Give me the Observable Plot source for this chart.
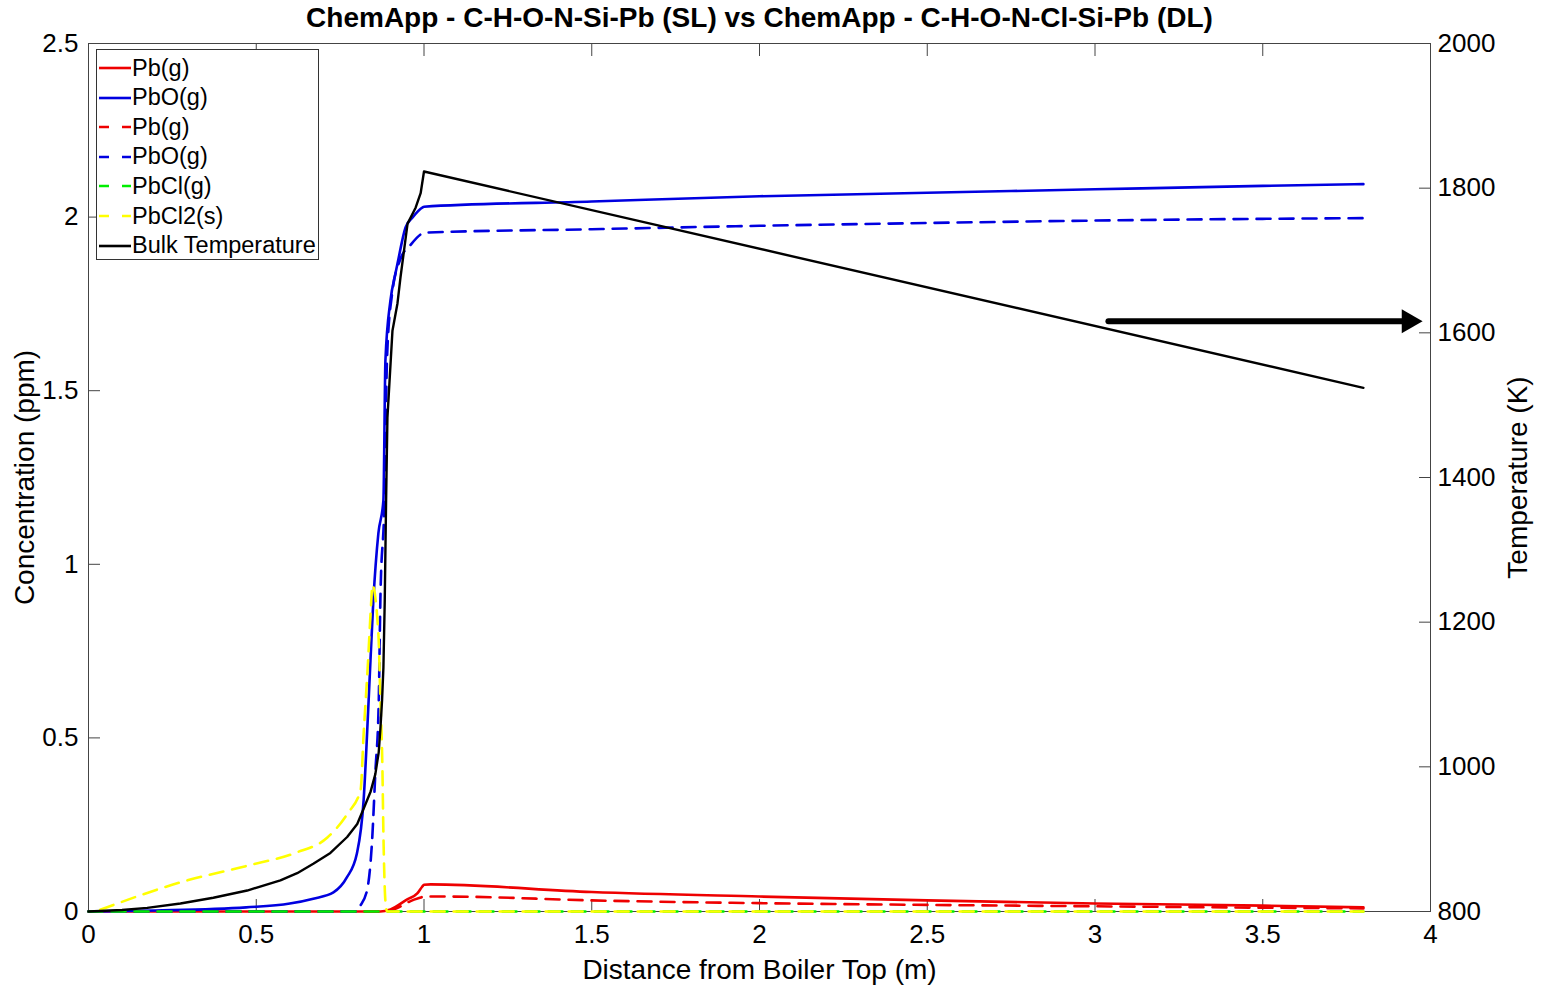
<!DOCTYPE html>
<html><head><meta charset="utf-8">
<script src="https://cdn.jsdelivr.net/npm/d3@7"></script>
<script src="https://cdn.jsdelivr.net/npm/@observablehq/plot@0.6"></script>
<style>
body{margin:0;background:#fff;font-family:"Liberation Sans",Arial,sans-serif;}
#wrap{position:relative;width:1543px;height:988px;}
#legend{position:absolute;left:96px;top:49px;width:223px;height:211px;border:1px solid #333;background:#fff;box-sizing:border-box;}
.row{position:absolute;left:0;height:28px;display:flex;align-items:center;font-size:23.5px;color:#000;white-space:nowrap;}
.row svg{display:block;margin-right:0px;}
</style>
</head><body><div id="wrap"></div>
<script>
// ---- data ----
const titleText = "ChemApp - C-H-O-N-Si-Pb (SL) vs ChemApp - C-H-O-N-Cl-Si-Pb (DL)";
const xTicks = [0, 0.5, 1, 1.5, 2, 2.5, 3, 3.5, 4];
const yTicks = [0, 0.5, 1, 1.5, 2, 2.5];
const tTicks = [800, 1000, 1200, 1400, 1600, 1800, 2000];

const pbSolidX = [0, 0.87, 0.9, 0.95, 0.98, 0.995, 1.0, 1.02, 1.5, 2.0, 2.5, 3.0, 3.5, 3.8];
const pbSolidY = [0, 0, 0.006, 0.035, 0.052, 0.072, 0.077, 0.078, 0.056, 0.043, 0.032, 0.023, 0.017, 0.012];

const pboSolidX = [0, 0.2, 0.47, 0.6, 0.67, 0.73, 0.77, 0.8, 0.82, 0.835, 0.849, 0.864, 0.879, 0.885, 0.9, 0.915, 0.921, 0.945, 0.966, 0.996, 1.0, 1.5, 2.0, 2.5, 3.0, 3.5, 3.8];
const pboSolidY = [0, 0.003, 0.012, 0.023, 0.037, 0.055, 0.098, 0.167, 0.32, 0.608, 0.896, 1.089, 1.184, 1.587, 1.76, 1.838, 1.866, 1.97, 1.999, 2.028, 2.03, 2.045, 2.06, 2.07, 2.08, 2.09, 2.095];

const pbDashX = [0, 0.88, 0.92, 0.96, 0.99, 1.0, 1.07, 1.5, 2.0, 2.5, 3.0, 3.5, 3.8];
const pbDashY = [0, 0, 0.01, 0.03, 0.04, 0.043, 0.043, 0.032, 0.024, 0.019, 0.015, 0.011, 0.009];

const pboDashX = [0, 0.8, 0.807, 0.83, 0.845, 0.855, 0.865, 0.87, 0.882, 0.89, 0.905, 0.93, 0.96, 0.99, 1.0, 1.5, 2.0, 2.5, 3.0, 3.5, 3.8];
const pboDashY = [0, 0, 0.012, 0.06, 0.2, 0.4, 0.6, 0.9, 1.18, 1.6, 1.78, 1.88, 1.92, 1.95, 1.955, 1.965, 1.975, 1.983, 1.99, 1.995, 1.997];

const pbclDashX = [0, 1, 2, 3, 3.8];
const pbclDashY = [0, 0, 0, 0, 0];

const pbcl2DashX = [0.035, 0.274, 0.474, 0.62, 0.712, 0.772, 0.811, 0.82, 0.832, 0.842, 0.846, 0.864, 0.87, 0.876, 0.879, 0.885, 0.89, 3.8];
const pbcl2DashY = [0.005, 0.084, 0.132, 0.17, 0.213, 0.282, 0.35, 0.51, 0.70, 0.88, 0.94, 0.8, 0.61, 0.415, 0.225, 0.03, 0, 0];

const tempX = [0, 0.1, 0.175, 0.274, 0.372, 0.473, 0.572, 0.622, 0.67, 0.721, 0.771, 0.801, 0.82, 0.841, 0.855, 0.865, 0.870, 0.875, 0.879, 0.883, 0.887, 0.891, 0.906, 0.921, 0.93, 0.951, 0.975, 0.99, 1.0, 3.8];
const tempK = [800, 802, 805, 811, 819, 829, 843, 853, 866, 881, 903, 921, 942, 966, 990, 1020, 1052, 1092, 1137, 1230, 1368, 1483, 1603, 1641, 1677, 1751, 1773, 1793, 1823, 1524];

const arrowX = [3.04, 3.915];
const arrowHeadX = [3.935];
const arrowLevel = [1.70];

const legendNames = ["Pb(g)", "PbO(g)", "Pb(g)", "PbO(g)", "PbCl(g)", "PbCl2(s)", "Bulk Temperature"];
const legendColors = ["#ee0000", "#0000e0", "#ee0000", "#0000e0", "#00ee00", "#ffff00", "#000000"];
const legendDashed = [false, false, true, true, true, true, false];

// ---- helpers ----
const leftDomain = [0, 2.5];
const tempDomain = [800, 2000];
const toLeft = t => (t - tempDomain[0]) / (tempDomain[1] - tempDomain[0]) * (leftDomain[1] - leftDomain[0]);
const fromLeft = v => v / (leftDomain[1] - leftDomain[0]) * (tempDomain[1] - tempDomain[0]) + tempDomain[0];
const rows = (xs, ys) => xs.map((x, i) => ({x, y: ys[i]}));
const dash = "14,9";

const series = [
  {d: rows(pbSolidX, pbSolidY), c: legendColors[0], dash: null},
  {d: rows(pboSolidX, pboSolidY), c: legendColors[1], dash: null},
  {d: rows(pbDashX, pbDashY), c: legendColors[2], dash},
  {d: rows(pboDashX, pboDashY), c: legendColors[3], dash},
  {d: rows(pbclDashX, pbclDashY), c: legendColors[4], dash},
  {d: rows(pbcl2DashX, pbcl2DashY), c: legendColors[5], dash},
];
const tempRows = tempX.map((x, i) => ({x, y: toLeft(tempK[i])}));
const arrowRows = arrowX.map(x => ({x, y: arrowLevel[0]}));

const chart = Plot.plot({
  width: 1543, height: 988,
  marginLeft: 88, marginRight: 113, marginTop: 43, marginBottom: 77,
  style: {fontFamily: "'Liberation Sans', Arial, sans-serif", fontSize: "26px", color: "#000", background: "#fff"},
  x: {domain: [0, 4]},
  y: {domain: leftDomain},
  marks: [
    Plot.frame({stroke: "#444", strokeWidth: 1}),
    Plot.axisX(xTicks, {anchor: "bottom", tickSize: -12, tickPadding: 25, tickFormat: d => String(d), label: null, stroke: "#444", fontSize: 26}),
    Plot.axisX(xTicks, {anchor: "top", tickSize: -12, tickFormat: () => "", label: null, stroke: "#444"}),
    Plot.axisY(yTicks, {anchor: "left", tickSize: -12, tickPadding: 22, tickFormat: d => String(d), label: null, stroke: "#444", fontSize: 26}),
    Plot.axisY(tTicks.map(toLeft), {anchor: "right", tickSize: -12, tickPadding: 19, tickFormat: d => String(Math.round(fromLeft(d))), label: null, stroke: "#444", fontSize: 26}),
    ...series.map(s => Plot.line(s.d, {x: "x", y: "y", stroke: s.c, strokeWidth: 2.6, strokeDasharray: s.dash, curve: "monotone-x"})),
    Plot.line(tempRows, {x: "x", y: "y", stroke: "#000", strokeWidth: 2.4}),
    Plot.line(arrowRows, {x: "x", y: "y", stroke: "#000", strokeWidth: 6}),
    Plot.dot(arrowHeadX, {x: d => d, y: () => arrowLevel[0], symbol: "triangle2", r: 11.5, rotate: 90, fill: "#000", stroke: "none"}),
    Plot.text([titleText], {frameAnchor: "top", lineAnchor: "middle", dy: -25, fontSize: 28, fontWeight: "bold"}),
    Plot.text(["Distance from Boiler Top (m)"], {frameAnchor: "bottom", lineAnchor: "middle", dy: 59, fontSize: 28}),
    Plot.text(["Concentration (ppm)"], {frameAnchor: "left", textAnchor: "middle", lineAnchor: "middle", dx: -63, rotate: -90, fontSize: 28}),
    Plot.text(["Temperature (K)"], {frameAnchor: "right", textAnchor: "middle", lineAnchor: "middle", dx: 88, rotate: -90, fontSize: 28})
  ]
});
const wrap = document.getElementById("wrap");
wrap.appendChild(chart);

// legend
const lg = document.createElement("div");
lg.id = "legend";
legendNames.forEach((name, i) => {
  const r = document.createElement("div");
  r.className = "row";
  r.style.top = (4 + i * 29.6) + "px";
  r.innerHTML = `<svg width="35" height="10"><line x1="2" y1="5" x2="34" y2="5" stroke="${legendColors[i]}" stroke-width="2.6" ${legendDashed[i] ? 'stroke-dasharray="10,13"' : ''}/></svg><span>${name}</span>`;
  lg.appendChild(r);
});
wrap.appendChild(lg);
</script>
</body></html>
